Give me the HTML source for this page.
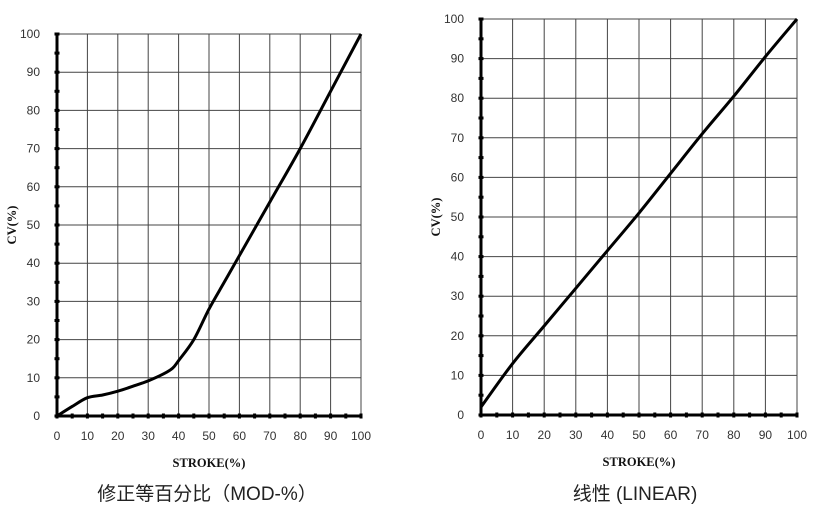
<!DOCTYPE html>
<html><head><meta charset="utf-8"><style>
body{margin:0;background:#fff;width:816px;height:520px;overflow:hidden}
svg{display:block}
.t{font-family:"Liberation Sans",sans-serif;font-size:12px;fill:#333}
.ax{font-family:"Liberation Serif",serif;font-size:12.5px;font-weight:bold;fill:#111}
.cap{font-family:"Liberation Sans","Noto Sans CJK SC",sans-serif;font-size:19px;fill:#222}
</style></head><body>
<svg id="c" width="816" height="520"></svg>
<script>
const ticks=[0,10,20,30,40,50,60,70,80,90,100];
const modX=[0,5,10,15,20,25,30,35,38,40,45,50,55,60,70,80,90,100];
const modY=[0,2.5,4.8,5.5,6.5,7.8,9.2,11,12.5,14.5,20,28,35,42,56,70,85,100];
const linX=[0,10,20,30,40,50,60,70,80,90,100];
const linY=[2,13,22.5,32,41.5,51,61,71,80.5,90.5,100];
const NS="http://www.w3.org/2000/svg";
const svg=document.getElementById('c');
function mk(tag,attrs,parent){const e=document.createElementNS(NS,tag);for(const k in attrs)e.setAttribute(k,attrs[k]);(parent||svg).appendChild(e);return e;}
function smooth(pts){
  let d='M'+pts[0][0]+','+pts[0][1];
  for(let i=0;i<pts.length-1;i++){
    const p0=pts[i-1]||pts[i],p1=pts[i],p2=pts[i+1],p3=pts[i+2]||p2;
    const c1=[p1[0]+(p2[0]-p0[0])/6,p1[1]+(p2[1]-p0[1])/6];
    const c2=[p2[0]-(p3[0]-p1[0])/6,p2[1]-(p3[1]-p1[1])/6];
    d+=` C${c1[0]},${c1[1]} ${c2[0]},${c2[1]} ${p2[0]},${p2[1]}`;
  }
  return d;
}
function chart(name,x0,x1,y0,y1,xs,ys,caption,capX,capY){
  const g=mk('g',{});
  
  
  const sx=v=>x0+(x1-x0)*v/100, sy=v=>y0-(y0-y1)*v/100;
  ticks.forEach(t=>{
    const vl=mk('line',{x1:sx(t),x2:sx(t),y1:sy(0),y2:sy(100),stroke:'#444','stroke-width':1},g);
    
    
    const hl=mk('line',{x1:sx(0),x2:sx(100),y1:sy(t),y2:sy(t),stroke:'#444','stroke-width':1},g);
    
    
    const xl=mk('text',{x:sx(t),y:y0+24,'text-anchor':'middle',class:'t'},g);xl.textContent=t;
    
    
    const yl=mk('text',{x:x0-17,y:sy(t)+4,'text-anchor':'end',class:'t'},g);yl.textContent=t;
    
    
  });
  for(let t=0;t<=100;t+=5){
    mk('rect',{x:sx(t)-1.5,y:y0-2.5,width:3,height:5,fill:'#000'},g);
    mk('rect',{x:x0-2.5,y:sy(t)-1.5,width:5,height:3,fill:'#000'},g);
  }
  const xa=mk('line',{x1:x0,x2:x1,y1:y0,y2:y0,stroke:'#000','stroke-width':3},g);
  
  
  const ya=mk('line',{x1:x0,x2:x0,y1:y0,y2:y1,stroke:'#000','stroke-width':3},g);
  
  
  const p=mk('path',{d:smooth(xs.map((x,i)=>[sx(x),sy(ys[i])])),fill:'none',stroke:'#000','stroke-width':3,'stroke-linejoin':'round'},g);
  
  
  const xt=mk('text',{x:(x0+x1)/2,y:y0+51,'text-anchor':'middle',class:'ax'},g);xt.textContent='STROKE(%)';
  
  
  const cy=(y0+y1)/2;
  const yt=mk('text',{x:x0-41,y:cy,'text-anchor':'middle',class:'ax',transform:`rotate(-90 ${x0-41} ${cy})`},g);yt.textContent='CV(%)';
  
  
  const c=mk('text',{x:capX,y:capY,'text-anchor':'middle',class:'cap'},g);c.textContent=caption;
  
  
}
chart('mod-percent-chart',57,361,416,34,modX,modY,'修正等百分比（MOD-%）',207,500);
chart('linear-chart',481,797,415,19,linX,linY,'线性 (LINEAR)',635,500);
</script>
</body></html>
